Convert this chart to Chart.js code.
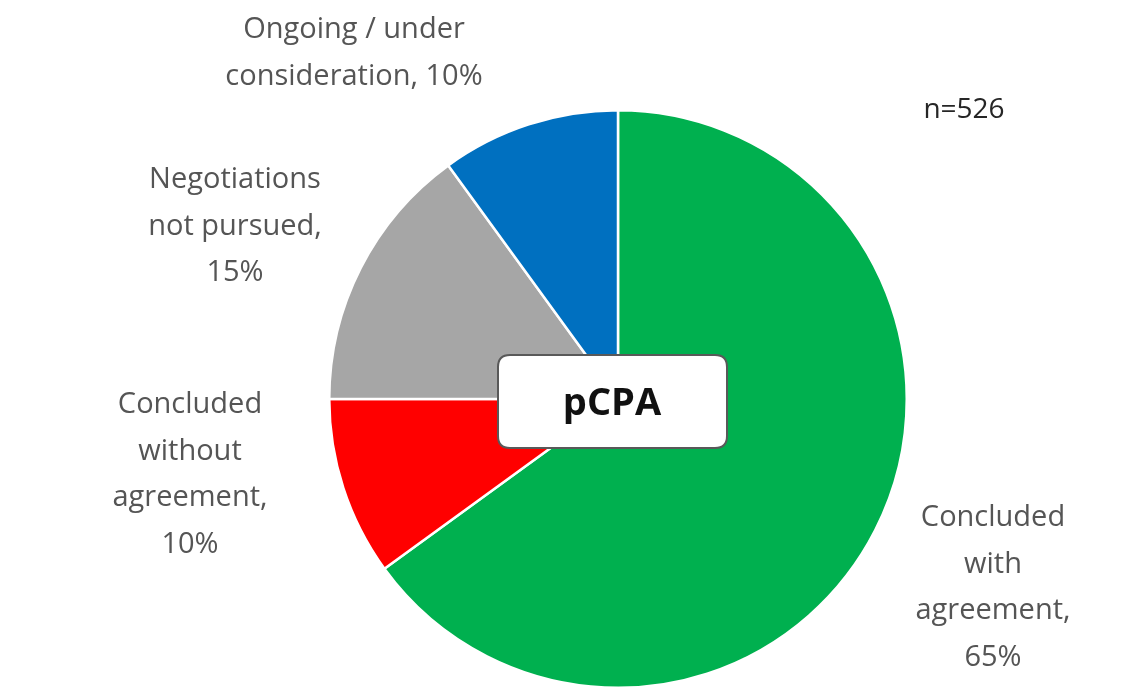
<!DOCTYPE html>
<html>
<head>
<meta charset="utf-8">
<script src="https://cdn.jsdelivr.net/npm/chart.js@4"></script>
<style>
html,body{margin:0;padding:0;background:#fff}
#wrap{width:1129px;height:695px;position:relative}
</style>
</head>
<body>
<div id="wrap"><canvas id="pieChart" width="1129" height="695"></canvas></div>
<script>
let categories = ["Concluded with agreement","Concluded without agreement","Negotiations not pursued","Ongoing / under consideration"]
let shares = [65,10,15,10]
let colors = ["#00B04F","#FF0000","#A6A6A6","#0070C0"]
// label lines for each slice, in the same order
let labelLines = [
["Concluded","with","agreement,","65%"],
["Concluded","without","agreement,","10%"],
["Negotiations","not pursued,","15%"],
["Ongoing / under","consideration, 10%"]
]
let labelPos = [[993,518],[190,405],[235,180],[354,30]]
let sampleText = "n=526"
let centerText = "pCPA"

let fontFam = "'Open Sans', Lato, sans-serif"

function roundRect(ctx,x,y,w,h,r){
ctx.beginPath()
ctx.moveTo(x+r,y)
ctx.lineTo(x+w-r,y)
ctx.quadraticCurveTo(x+w,y,x+w,y+r)
ctx.lineTo(x+w,y+h-r)
ctx.quadraticCurveTo(x+w,y+h,x+w-r,y+h)
ctx.lineTo(x+r,y+h)
ctx.quadraticCurveTo(x,y+h,x,y+h-r)
ctx.lineTo(x,y+r)
ctx.quadraticCurveTo(x,y,x+r,y)
ctx.closePath()
}

let textPlugin = {
id:"textPlugin",
afterDraw(chart){
let ctx = chart.ctx
ctx.save()
ctx.textAlign = "center"
ctx.textBaseline = "middle"
ctx.fillStyle = "#555"
ctx.font = "29px " + fontFam
labelLines.forEach((lines,i)=>{
let p = labelPos[i]
lines.forEach((t,j)=>{
ctx.fillText(t,p[0],p[1]+j*46.5)
})
})
ctx.fillStyle = "#262626"
ctx.font = "28px " + fontFam
ctx.fillText(sampleText,964,110)
// center box
let arc = chart.getDatasetMeta(0).data[0]
let cx = arc.x, cy = arc.y
roundRect(ctx,cx-120,cy-44,229,93,12)
ctx.fillStyle = "#fff"
ctx.fill()
ctx.lineWidth = 2
ctx.strokeStyle = "#595959"
ctx.stroke()
ctx.fillStyle = "#111"
ctx.font = "bold 38px " + fontFam
ctx.fillText(centerText,cx-6,cy+5)
ctx.restore()
}
}

new Chart(document.getElementById("pieChart"),{
type:"pie",
data:{
labels:categories,
datasets:[{
data:shares,
backgroundColor:colors,
borderColor:"#fff",
borderWidth:2.5
}]
},
options:{
responsive:false,
animation:false,
layout:{padding:{left:328,right:221,top:108,bottom:5}},
plugins:{legend:{display:false},tooltip:{enabled:false}}
},
plugins:[textPlugin]
})
</script>
</body>
</html>
